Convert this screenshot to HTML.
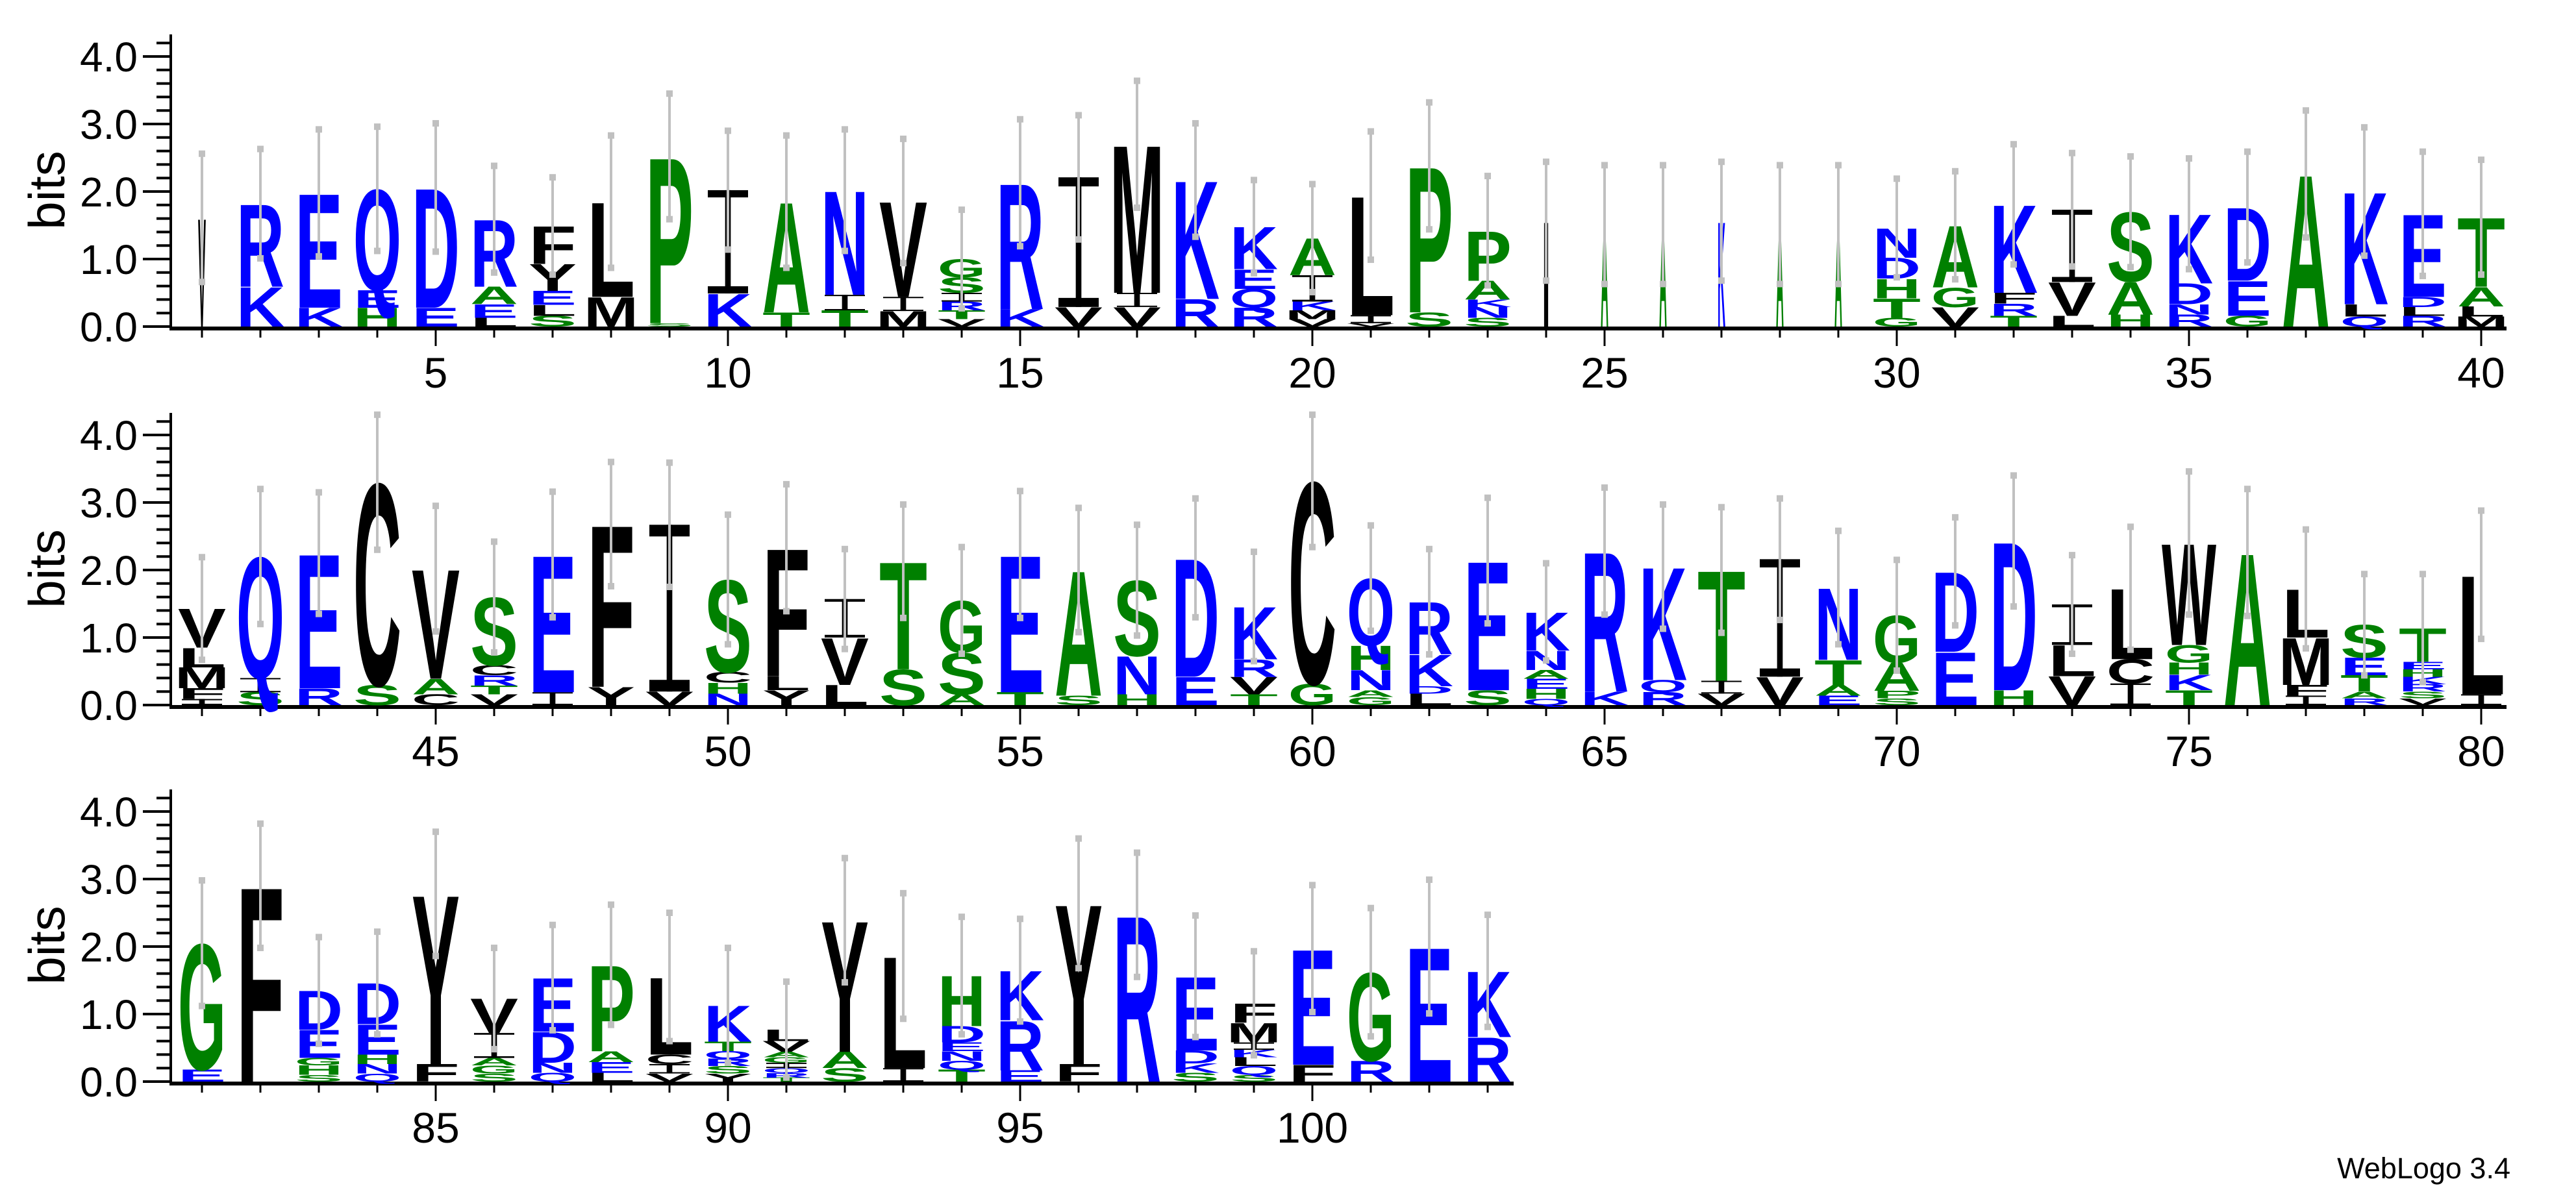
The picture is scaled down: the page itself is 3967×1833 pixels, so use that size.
<!DOCTYPE html>
<html><head><meta charset="utf-8"><style>
html,body{margin:0;padding:0;background:#fff;}
svg{display:block;}
</style></head><body>
<svg id="s" xmlns="http://www.w3.org/2000/svg" width="3967" height="1833" viewBox="0 0 3967 1833">
<rect width="3967" height="1833" fill="#fff"/>
<text x="3866" y="1815" font-family="Liberation Sans, sans-serif" font-size="45" text-anchor="end" fill="#000">WebLogo 3.4</text>
</svg>
<script>
const D=[
"V1.61|2.56|n","K.59R1.23|2.63","K.28E1.7|2.92","H.28E.26Q1.5|2.96","E.28D1.78|3.01",
"L.13E.2A.26R1.0|2.38","S.16L.16E.21Y.4F.56|2.21","M.44L1.41|2.83","S.05P2.47|3.45","K.49I1.53|2.9",
"T.21A1.64|2.83","T.24I.23N1.55|2.92","M.23I.21V1.42|2.78","V.11T.13R.13I.13S.23G.27|1.73","K.26R1.87|3.07",
"V.29I1.92|3.13","V.29I.21M2.2|3.64","R.41K1.76|3.01","R.28Q.28E.29K.63|2.17","V.11M.13K.13I.39A.55|2.11",
"V.05I.12L1.77|2.89","S.21P2.17|3.32","S.13N.16K.11A.28P.74|2.23","I1.56|2.44|n","A1.51|2.39|n",
"A1.51|2.39|n","K1.56|2.44|n","A1.51|2.39|n","A1.51|2.39|n","G.13T.29H.29D.31N.44|2.19",
"V.29G.29A.92|2.3","T.16R.18F.16K1.31|2.7","L.16V.5I1.07|2.57","H.18A.49S1.03|2.52","R.18N.15D.31K1.03|2.49",
"G.16E.52D1.09|2.59","A2.26|3.2","Q.15L.18K1.67|2.95","R.16L.13D.15E1.23|2.59","M.15L.15A.29T1.03|2.47",
"I.09F.16M.31L.29V.58|2.19","S.19I.21Q1.8|3.2","R.25E2.0|3.15","S.3C3.0|4.3","C.16A.23V1.63|2.95",
"V.16T.13R.15C.15S1.01|2.42","I.19E2.04|3.16","Y.27F2.41|3.6","V.2I2.47|3.59","N.17H.16C.16S1.37|2.82",
"Y.22L.21F1.9|3.27","L.3V.7I.57|2.31","S.53T1.6|2.97","A.16S.62G.77|2.34","T.19E2.04|3.17",
"S.14A1.86|2.92","H.16N.57S1.12|2.67","E.42D1.76|3.06","T.16V.26R.26K.78|2.27","G.32C3.0|4.3",
"G.12A.1N.3H.36Q1.0|2.66","L.17D.11K.47R.78|2.31","S.22E1.92|3.07","Q.09H.15E.15A.13N.29K.57|2.1","K.2R2.08|3.22",
"R.19Q.18K1.68|2.97","V.17I.19T1.64|2.93","V.42I1.74|3.06","E.14A.16T.37N1.07|2.58","S.1P.11A.42G.7|2.15",
"E.79D1.19|2.78","H.22D2.21|3.4","V.43L.46I.6|2.22","I.32C.36L1.05|2.64","T.22K.23H.18G.26W1.51|3.46",
"A2.26|3.2","I.14F.16M.7L.72|2.6","R.1A.1T.24E.26S.49|1.94","V.1S.1R.11K.11H.11E.11T.5|1.94","I.16L1.77|2.88",
"E.18G1.87|2.98","F2.9|3.82","S.1H.14G.11E.42D.58|2.14","Q.12N.14H.14E.45D.61|2.22","F.26Y2.52|3.7",
"S.12G.12A.11I.37V.51|1.98","Q.13N.15D.46E.8|2.32","L.13E.16A.16P1.28|2.62","V.12I.14C.14L1.15|2.5","Y.12S.11R.11Q.11T.14K.54|1.98",
"T.06R.07Q.07I.08G.08A.08V.16L.17|1.48","S.2A.24Y1.95|3.31","I.2L1.66|2.79","T.18Q.13N.14E.13D.24H.75|2.44","E.17R.74K.74|2.41",
"F.26Y2.38|3.6","R2.47|3.39","S.13K.14D.19E1.1|2.46","S.1Q.13L.13K.11I.11M.29F.29|1.93","F.25E1.72|2.91",
"R.31G1.31|2.57","E2.0|2.99","R.66K.98|2.47"];
const BL=[503,1086,1666], PB=104, X0=311, DX=90, AX=263;
const ends=[3860,3860,2331];
const col=c=>"KRDENQ".includes(c)?"#0000ff":("GSTAPH".includes(c)?"#008000":"#000");
const s=document.getElementById('s'), NS="http://www.w3.org/2000/svg";
function el(t,a,txt){const e=document.createElementNS(NS,t);for(const k in a)e.setAttribute(k,a[k]);if(txt!==undefined)e.textContent=txt;s.appendChild(e);return e;}
const F="Liberation Sans, Arial, sans-serif";
for(let r=0;r<3;r++){
 const B=BL[r];
 el('line',{x1:AX,y1:B+3,x2:AX,y2:B-450,stroke:'#000','stroke-width':4});
 for(let k=0;k<=21;k++){const y=B-k*0.2*PB;const maj=k%5==0;
  el('line',{x1:maj?AX-43:AX-22,y1:y,x2:AX,y2:y,stroke:'#000','stroke-width':4});
  if(maj)el('text',{x:212,y:y+23,'font-family':F,'font-size':64,'text-anchor':'end',fill:'#000'},(k/5).toFixed(1));}
 el('text',{transform:`translate(99,${B-210}) rotate(-90)`,'font-family':F,'font-size':78,'text-anchor':'middle',fill:'#000'},'bits');
 el('rect',{x:AX-2,y:B,width:ends[r]-AX+2,height:6,fill:'#000'});
}
const bars=[];
D.forEach((d,i)=>{
 const p=i+1, r=Math.floor(i/40), j=i%40, B=BL[r], cx=X0+j*DX;
 const parts=d.split('|'); const narrow=parts[2]==='n';
 const maj=p%5==0;
 el('line',{x1:cx,y1:B+5,x2:cx,y2:B+(maj?30:17),stroke:'#000','stroke-width':3});
 if(maj)el('text',{x:cx,y:B+94,'font-family':F,'font-size':66,'text-anchor':'middle',fill:'#000'},String(p));
 let y=B, tot=0; const re=/([A-Z])([\d.]+)/g; let m;
 while((m=re.exec(parts[0]))){
  const c=m[1],h=parseFloat(m[2])*PB; tot+=parseFloat(m[2]);
  if(c=='I' && !narrow){
   const w=62, sw=Math.max(2,w*0.14), bh=Math.max(2,h*0.07);
   el('rect',{x:cx-w/2,y:y-h,width:w,height:bh,fill:'#000'});
   el('rect',{x:cx-w/2,y:y-bh,width:w,height:bh,fill:'#000'});
   el('rect',{x:cx-sw/2,y:y-h,width:sw,height:h,fill:'#000'});
   // keep letter as text too (invisible size)
   el('text',{x:cx,y:y,'font-size':1,fill:'#000','fill-opacity':0},c);
  } else {
   let w=narrow?12:((c=='M'||c=='W')?84:74);
   el('text',{transform:`translate(${cx},${y}) scale(1,${(h/70).toFixed(4)})`,'font-family':F,'font-weight':'bold','font-size':100,'text-anchor':'middle',textLength:w,lengthAdjust:'spacingAndGlyphs',fill:col(c)},c);
  }
  y-=h;
 }
 const top=parseFloat(parts[1]); const lo=Math.max(0,2*tot-top);
 bars.push([cx,B-top*PB,B-lo*PB]);
});
bars.forEach(([x,t,b])=>{
 el('line',{x1:x,y1:t,x2:x,y2:b,stroke:'#c0c0c0','stroke-width':4});
 el('rect',{x:x-5,y:t-5,width:10,height:10,fill:'#c0c0c0'});
 el('rect',{x:x-5,y:b-5,width:10,height:10,fill:'#c0c0c0'});
});
</script>
</body></html>
